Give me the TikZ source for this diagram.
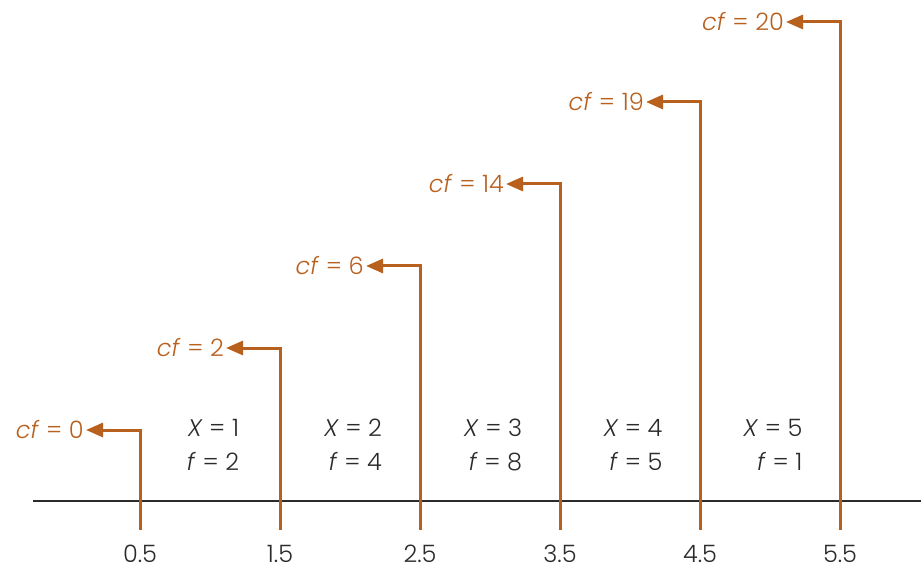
\documentclass[tikz,border=0pt]{standalone}
\usepackage{fontspec}
\setmainfont{Poppins}[UprightFont=* Light,ItalicFont=* Light Italic]
\usetikzlibrary{positioning,arrows.meta}
\definecolor{cfbrown}{HTML}{B8601E}
\definecolor{axisgray}{HTML}{2B2B2B}

\begin{document}
\begin{tikzpicture}[x=1pt,y=-1pt,
  lbl/.style={text=cfbrown,font=\fontsize{24}{28}\selectfont,inner sep=2pt,anchor=east},
  cls/.style={text=axisgray,font=\fontsize{24}{34}\selectfont,align=right,inner sep=0pt},
  tk/.style={text=axisgray,font=\fontsize{24}{28}\selectfont,inner sep=0pt,anchor=base},
  a/.style={-{Triangle[length=17pt,width=14pt]},cfbrown,line width=3pt}]
\useasboundingbox (0,0) rectangle (921,569);
% axis
\coordinate (axl) at (33,501);
\coordinate (axr) at (921,501);
\draw[axisgray,line width=1.4pt] (axl)--(axr);
% bottoms of the boundaries
\coordinate (b1) at (140,530);
\coordinate (b2) at (280,530);
\coordinate (b3) at (420,530);
\coordinate (b4) at (560,530);
\coordinate (b5) at (700,530);
\coordinate (b6) at (840,530);
% cumulative frequencies
\node[lbl] (cf1) at (86,430) {\textit{cf} = 0};
\node[lbl] (cf2) at (226,348) {\textit{cf} = 2};
\node[lbl] (cf3) at (366,266) {\textit{cf} = 6};
\node[lbl] (cf4) at (506,184) {\textit{cf} = 14};
\node[lbl] (cf5) at (646,102) {\textit{cf} = 19};
\node[lbl] (cf6) at (786,22) {\textit{cf} = 20};
\draw[a] (b1) |- (cf1.east);
\draw[a] (b2) |- (cf2.east);
\draw[a] (b3) |- (cf3.east);
\draw[a] (b4) |- (cf4.east);
\draw[a] (b5) |- (cf5.east);
\draw[a] (b6) |- (cf6.east);
% classes
\node[cls] (x1) at (213,445) {\textit{X} = 1\\\textit{f} = 2};
\node[cls] (x2) at (353,445) {\textit{X} = 2\\\textit{f} = 4};
\node[cls] (x3) at (493,445) {\textit{X} = 3\\\textit{f} = 8};
\node[cls] (x4) at (633,445) {\textit{X} = 4\\\textit{f} = 5};
\node[cls] (x5) at (773,445) {\textit{X} = 5\\\textit{f} = 1};
% real limits
\node[tk] (t1) at (140,562) {0.5};
\node[tk] (t2) at (280,562) {1.5};
\node[tk] (t3) at (420,562) {2.5};
\node[tk] (t4) at (560,562) {3.5};
\node[tk] (t5) at (700,562) {4.5};
\node[tk] (t6) at (840,562) {5.5};
\end{tikzpicture}
\end{document}
